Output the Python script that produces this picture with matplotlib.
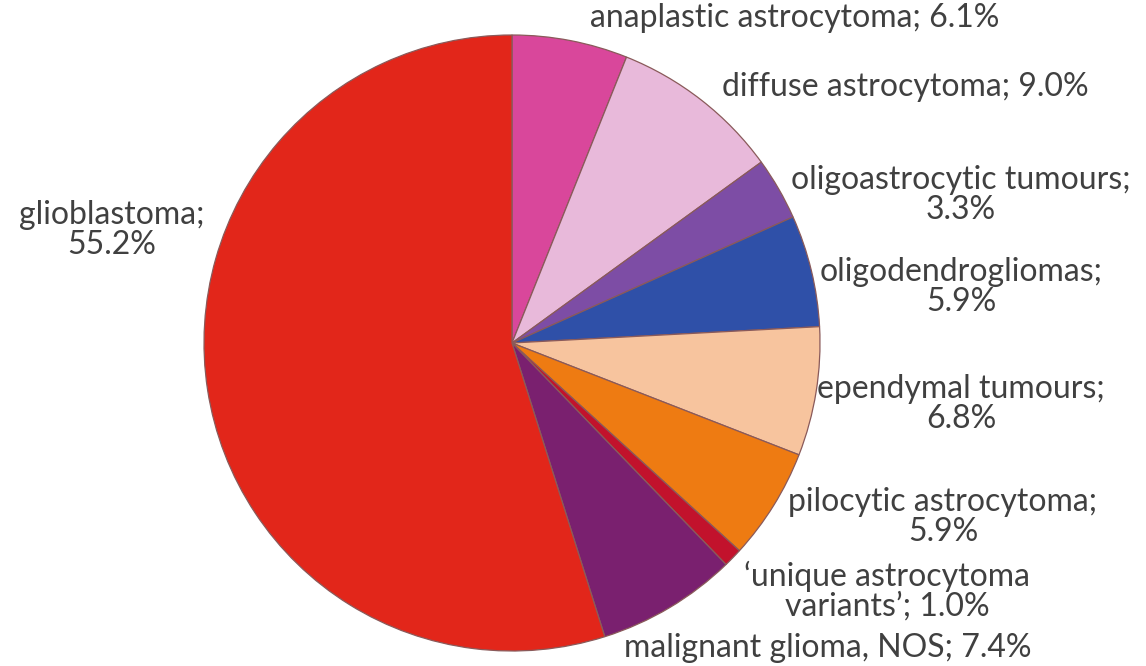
import matplotlib.pyplot as plt

# slices, clockwise from 12 o'clock
names = ["anaplastic astrocytoma", "diffuse astrocytoma", "oligoastrocytic tumours",
         "oligodendrogliomas", "ependymal tumours", "pilocytic astrocytoma",
         "'unique astrocytoma variants'", "malignant glioma, NOS", "glioblastoma"]
shares = [6.1, 9.0, 3.3, 5.9, 6.8, 5.9, 1.0, 7.4, 55.2]
labels = ["anaplastic astrocytoma; 6.1%", "diffuse astrocytoma; 9.0%",
          "oligoastrocytic tumours;\n3.3%", "oligodendrogliomas;\n5.9%",
          "ependymal tumours;\n6.8%", "pilocytic astrocytoma;\n5.9%",
          "\u2018unique astrocytoma\nvariants\u2019; 1.0%", "malignant glioma, NOS; 7.4%",
          "glioblastoma;\n55.2%"]
colors = ["#D9479B", "#E8B9DA", "#7D4DA5", "#2F50A8", "#F7C49E",
          "#EE7B12", "#C2122C", "#7A206F", "#E2261A"]

# label anchor points, in pixels of the 1146x666 picture
label_px = [(795, 18), (905, 87), (961, 195), (961, 287), (961, 404),
            (943, 517), (887, 591), (828, 648), (112, 230)]

W, H = 1146, 666
cx, cy, r = 512, 343, 308

fig = plt.figure(figsize=(W / 100, H / 100), dpi=100)
ax = fig.add_axes([(cx - r) / W, (H - cy - r) / H, 2 * r / W, 2 * r / H])

ax.pie(shares, colors=colors, startangle=90, counterclock=False,
       wedgeprops=dict(edgecolor="#8a5a5a", linewidth=0.9))
ax.set_xlim(-1, 1)
ax.set_ylim(-1, 1)

for lab, (px, py) in zip(labels, label_px):
    ax.text((px - cx) / r, (cy - py) / r, lab, ha="center", va="center",
            fontsize=23, family="Lato", color="#404040", linespacing=1.0)

fig.savefig("out.png", dpi=100)
